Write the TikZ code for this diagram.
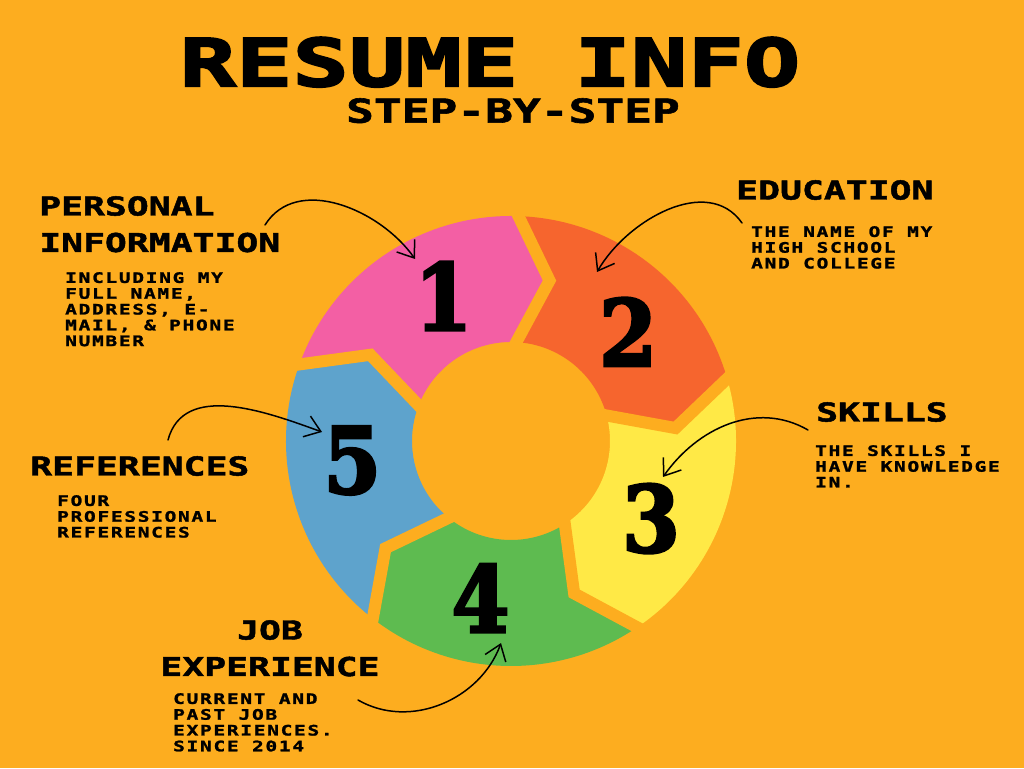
\documentclass[tikz,border=0pt]{standalone}
\usepackage{fontspec}
\usepackage{xcolor}
\usepackage{tikz}
\usetikzlibrary{arrows.meta, positioning, calc}

\newfontfamily\titlefont{DejaVu Sans Mono Bold}[FakeStretch=1.42, FakeBold=3]
\newfontfamily\headfont{DejaVu Sans Mono Bold}[FakeStretch=1.4, FakeBold=1.8]
\newfontfamily\bodyfont{DejaVu Sans Mono Bold}[FakeStretch=1.35, LetterSpace=12, FakeBold=1.6]
\newfontfamily\digitfont{DejaVu Serif Condensed Bold}[FakeBold=3]

\definecolor{bgorange}{HTML}{FDAD1F}
\definecolor{segpink}{HTML}{F35FA4}
\definecolor{segred}{HTML}{F6652E}
\definecolor{segyellow}{HTML}{FFE946}
\definecolor{seggreen}{HTML}{5EBB50}
\definecolor{segblue}{HTML}{5EA3CC}

\begin{document}
\begin{tikzpicture}[
    x=1pt, y=1pt,
    titletext/.style={font=\titlefont\fontsize{66}{66}\selectfont, inner sep=0pt, anchor=north},
    subtext/.style={font=\headfont\fontsize{33}{33}\selectfont, inner sep=0pt, anchor=north},
    heading/.style={font=\headfont\fontsize{26}{36.5}\selectfont, align=left,
                    inner sep=0pt, anchor=north west},
    detail/.style={font=\bodyfont\fontsize{14.4}{15.8}\selectfont, align=left,
                   inner sep=0pt, anchor=north west},
    numlabel/.style={font=\digitfont\fontsize{92}{92}\selectfont, inner sep=0pt},
    gapline/.style={bgorange, line width=12pt, line join=miter},
    pointer/.style={-{Straight Barb[length=15pt, width=22pt]}, line width=1.5pt,
                    line cap=round},
]
\fill[bgorange] (0,0) rectangle (1024,768);
\useasboundingbox (0,0) rectangle (1024,768);

\node[titletext] (title) at (490,731) {RESUME INFO};
\node[subtext] (subtitle) at (513,670) {STEP-BY-STEP};

\begin{scope}[shift={(511,327)}]
\foreach \b/\col in {161/segpink, 89/segred, 17/segyellow, -55/seggreen, -127/segblue} {
    \pgfmathsetmacro\e{\b-72}
    \pgfmathsetmacro\t{\e-12.5}
    \pgfmathsetmacro\n{\b-12.5}
    \fill[\col] (\b:225) arc[start angle=\b, end angle=\e, radius=225]
        -- (\t:165) -- (\e:99) arc[start angle=\e, end angle=\b, radius=99]
        -- (\n:165) -- cycle;
}
\foreach \b in {161, 89, 17, -55, -127} {
    \pgfmathsetmacro\t{\b-12.5}
    \draw[gapline] (\b:232) -- (\t:165) -- (\b:92);
}
\foreach \k in {1,...,5}
    \node[numlabel] (n\k) at ({115-72*(\k-1)}:160) {\k};
\end{scope}

\node[heading] (perhead) at (39,572) {PERSONAL\\INFORMATION};
\node[detail] (perbody) at (65,496) {INCLUDING MY\\FULL NAME,\\ADDRESS, E-\\MAIL, \& PHONE\\NUMBER};

\node[heading] (eduhead) at (736,588) {EDUCATION};
\node[detail] (edubody) at (751,542) {THE NAME OF MY\\HIGH SCHOOL\\AND COLLEGE};

\node[heading] (skillhead) at (816,366) {SKILLS};
\node[detail] (skillbody) at (815,323) {THE SKILLS I\\HAVE KNOWLEDGE\\IN.};

\node[heading] (refhead) at (30,312) {REFERENCES};
\node[detail] (refbody) at (57,273) {FOUR\\PROFESSIONAL\\REFERENCES};

\node[heading, align=center, anchor=north] (jobhead) at (270,148) {JOB\\EXPERIENCE};
\node[detail] (jobbody) at (173,75) {CURRENT AND\\PAST JOB\\EXPERIENCES.\\SINCE 2014};

\coordinate (pers) at (265,543);
\coordinate (pere) at (415,509);
\coordinate (edus) at (742,545);
\coordinate (edue) at (597,496);
\coordinate (skills) at (808,338);
\coordinate (skille) at (663,291);
\coordinate (jobs) at (358,68);
\coordinate (jobe) at (501,125);
\coordinate (refs) at (168,328);
\coordinate (refe) at (322,336);

\draw[pointer] (pers) to[out=58, in=125] (pere);
\draw[pointer] (edus) to[out=125, in=60] (edue);
\draw[pointer] (skills) to[out=150, in=55] (skille);
\draw[pointer] (jobs) to[out=-30, in=-110] (jobe);
\draw[pointer] (refs) to[out=75, in=160] (refe);
\end{tikzpicture}
\end{document}
